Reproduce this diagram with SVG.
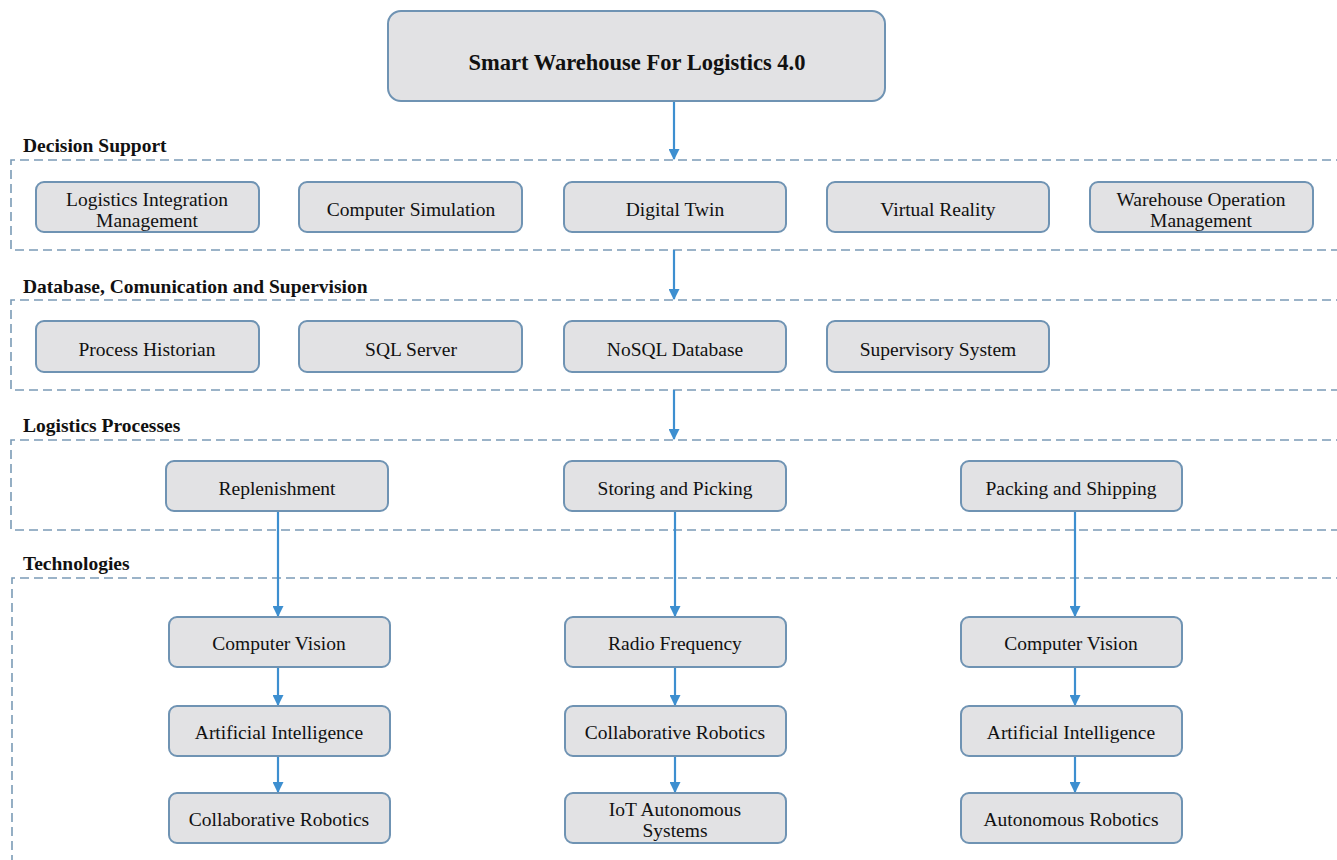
<svg xmlns="http://www.w3.org/2000/svg" width="1337" height="860" viewBox="0 0 1337 860">
<defs>
<style>
.node rect{fill:#e2e2e4;stroke:#6f93b3;stroke-width:2}
.node text{font-family:"Liberation Serif","Times New Roman",serif;font-size:19.5px;fill:#111;text-anchor:middle}
.title text{font-family:"Liberation Serif","Times New Roman",serif;font-size:22.5px;font-weight:bold;fill:#111;text-anchor:middle}
.grp{fill:none;stroke:#7b9bb6;stroke-width:1.6;stroke-dasharray:9,5}
.lbl{font-family:"Liberation Serif","Times New Roman",serif;font-size:19.5px;font-weight:bold;fill:#111}
.conn line{stroke:#3d8fd0;stroke-width:2.2;fill:none}
</style>
<marker id="ah" viewBox="0 0 10 10" refX="9" refY="5" markerWidth="5" markerHeight="5" orient="auto" markerUnits="strokeWidth">
<path d="M0,0 L10,5 L0,10 z" fill="#3d8fd0"/>
</marker>
</defs>
<rect width="1337" height="860" fill="#ffffff"/>

<g id="groups">
<path class="grp" d="M1345,160 H11 V250 H1345"/>
<path class="grp" d="M1345,300 H11 V390 H1345"/>
<path class="grp" d="M1345,440 H11 V530 H1345"/>
<path class="grp" d="M1345,578 H12 V870"/>
<text class="lbl" x="23" y="152">Decision Support</text>
<text class="lbl" x="23" y="293">Database, Comunication and Supervision</text>
<text class="lbl" x="23" y="432">Logistics Processes</text>
<text class="lbl" x="23" y="570">Technologies</text>
</g>

<g class="conn" id="connectors">
<line x1="674" y1="101" x2="674" y2="159" marker-end="url(#ah)"/>
<line x1="674" y1="250" x2="674" y2="299" marker-end="url(#ah)"/>
<line x1="674" y1="390" x2="674" y2="439" marker-end="url(#ah)"/>
<line x1="278" y1="511" x2="278" y2="616" marker-end="url(#ah)"/>
<line x1="675" y1="511" x2="675" y2="616" marker-end="url(#ah)"/>
<line x1="1075" y1="511" x2="1075" y2="616" marker-end="url(#ah)"/>
<line x1="278" y1="667" x2="278" y2="705" marker-end="url(#ah)"/>
<line x1="675" y1="667" x2="675" y2="705" marker-end="url(#ah)"/>
<line x1="1075" y1="667" x2="1075" y2="705" marker-end="url(#ah)"/>
<line x1="278" y1="756" x2="278" y2="792" marker-end="url(#ah)"/>
<line x1="675" y1="756" x2="675" y2="792" marker-end="url(#ah)"/>
<line x1="1075" y1="756" x2="1075" y2="792" marker-end="url(#ah)"/>
</g>

<g id="title" class="node title">
<rect x="388" y="11" width="497" height="90" rx="13"/>
<text x="637" y="70">Smart Warehouse For Logistics 4.0</text>
</g>

<g id="n-lim" class="node"><rect x="36" y="182" width="223" height="50" rx="8"/><text x="147" y="206">Logistics Integration</text><text x="147" y="227">Management</text></g>
<g id="n-cs" class="node"><rect x="299" y="182" width="223" height="50" rx="8"/><text x="411" y="216">Computer Simulation</text></g>
<g id="n-dt" class="node"><rect x="564" y="182" width="222" height="50" rx="8"/><text x="675" y="216">Digital Twin</text></g>
<g id="n-vr" class="node"><rect x="827" y="182" width="222" height="50" rx="8"/><text x="938" y="216">Virtual Reality</text></g>
<g id="n-wom" class="node"><rect x="1090" y="182" width="223" height="50" rx="8"/><text x="1201" y="206">Warehouse Operation</text><text x="1201" y="227">Management</text></g>

<g id="n-ph" class="node"><rect x="36" y="321" width="223" height="51" rx="8"/><text x="147" y="356">Process Historian</text></g>
<g id="n-sql" class="node"><rect x="299" y="321" width="223" height="51" rx="8"/><text x="411" y="356">SQL Server</text></g>
<g id="n-nosql" class="node"><rect x="564" y="321" width="222" height="51" rx="8"/><text x="675" y="356">NoSQL Database</text></g>
<g id="n-ss" class="node"><rect x="827" y="321" width="222" height="51" rx="8"/><text x="938" y="356">Supervisory System</text></g>

<g id="n-rep" class="node"><rect x="166" y="461" width="222" height="50" rx="8"/><text x="277" y="495">Replenishment</text></g>
<g id="n-sp" class="node"><rect x="564" y="461" width="222" height="50" rx="8"/><text x="675" y="495">Storing and Picking</text></g>
<g id="n-pack" class="node"><rect x="961" y="461" width="221" height="50" rx="8"/><text x="1071" y="495">Packing and Shipping</text></g>

<g id="n-cv1" class="node"><rect x="169" y="617" width="221" height="50" rx="8"/><text x="279" y="650">Computer Vision</text></g>
<g id="n-ai1" class="node"><rect x="169" y="706" width="221" height="50" rx="8"/><text x="279" y="739">Artificial Intelligence</text></g>
<g id="n-cr1" class="node"><rect x="169" y="793" width="221" height="50" rx="8"/><text x="279" y="826">Collaborative Robotics</text></g>

<g id="n-rf" class="node"><rect x="565" y="617" width="221" height="50" rx="8"/><text x="675" y="650">Radio Frequency</text></g>
<g id="n-cr2" class="node"><rect x="565" y="706" width="221" height="50" rx="8"/><text x="675" y="739">Collaborative Robotics</text></g>
<g id="n-iot" class="node"><rect x="565" y="793" width="221" height="50" rx="8"/><text x="675" y="816">IoT Autonomous</text><text x="675" y="837">Systems</text></g>

<g id="n-cv2" class="node"><rect x="961" y="617" width="221" height="50" rx="8"/><text x="1071" y="650">Computer Vision</text></g>
<g id="n-ai2" class="node"><rect x="961" y="706" width="221" height="50" rx="8"/><text x="1071" y="739">Artificial Intelligence</text></g>
<g id="n-ar" class="node"><rect x="961" y="793" width="221" height="50" rx="8"/><text x="1071" y="826">Autonomous Robotics</text></g>
</svg>
